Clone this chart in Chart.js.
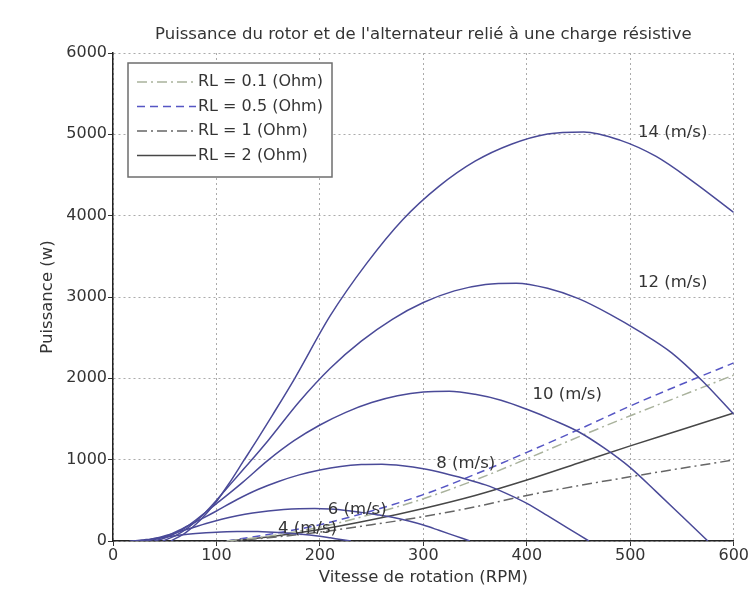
<!DOCTYPE html>
<html>
<head>
<meta charset="utf-8">
<script src="https://cdn.jsdelivr.net/npm/chart.js@4.4.1/dist/chart.umd.min.js"></script>
<style>
  html, body { margin: 0; padding: 0; background: #fff; }
  #wrap { width: 749px; height: 593px; }
</style>
</head>
<body>
<div id="wrap"><canvas id="chart" width="749" height="593"></canvas></div>
<script>
// rotor power curves, one per wind speed (RPM -> W)
const rpm14 = [56, 70, 84, 98, 112, 126, 140, 154, 175, 210, 245, 280, 315, 350, 385, 420, 455, 490, 525, 560, 600];
const pw14  = [0, 101, 252, 453, 704, 981, 1258, 1545, 1985, 2770, 3410, 3950, 4360, 4670, 4879, 5005, 5030, 4929, 4728, 4426, 4040];

const rpm12 = [48, 60, 72, 84, 96, 108, 120, 132, 150, 180, 210, 240, 270, 300, 330, 360, 390, 420, 450, 480, 510, 540, 570, 600];
const pw12  = [0, 63, 159, 285, 444, 618, 793, 967, 1236, 1712, 2124, 2457, 2726, 2932, 3075, 3154, 3170, 3107, 2980, 2790, 2568, 2314, 1965, 1560];

const rpm10 = [40, 50, 60, 70, 80, 90, 100, 110, 125, 150, 175, 200, 225, 250, 275, 300, 325, 350, 375, 400, 425, 450, 475, 500, 525, 550, 575];
const pw10  = [0, 37, 92, 166, 258, 359, 460, 561, 718, 994, 1233, 1426, 1582, 1702, 1785, 1831, 1840, 1803, 1730, 1619, 1490, 1343, 1141, 902, 607, 304, 0];

const rpm8 = [32, 40, 48, 56, 64, 72, 80, 88, 100, 120, 140, 160, 180, 200, 220, 240, 260, 280, 300, 320, 340, 360, 380, 400, 420, 440, 460];
const pw8  = [0, 19, 47, 85, 132, 184, 236, 288, 369, 510, 633, 732, 813, 874, 917, 940, 945, 926, 888, 832, 765, 690, 586, 463, 312, 156, 0];

const rpm6 = [24, 30, 36, 42, 48, 54, 60, 66, 75, 90, 105, 120, 135, 150, 165, 180, 195, 210, 225, 240, 255, 270, 285, 300, 315, 330, 345];
const pw6  = [0, 8, 20, 36, 56, 78, 100, 122, 156, 216, 268, 310, 344, 370, 388, 398, 400, 392, 376, 352, 324, 292, 248, 196, 132, 66, 0];

const rpm4 = [16, 20, 24, 28, 32, 36, 40, 44, 50, 60, 70, 80, 90, 100, 110, 120, 130, 140, 150, 160, 170, 180, 190, 200, 210, 220, 230];
const pw4  = [0, 2, 6, 11, 17, 23, 30, 36, 46, 64, 79, 91, 101, 109, 114, 117, 118, 116, 111, 104, 96, 86, 73, 58, 39, 19, 0];

// alternator power into the resistive load
const rpmLoad = [110, 150, 200, 250, 300, 350, 400, 450, 500, 550, 600];
const pwRL01  = [0, 60, 170, 330, 520, 750, 1010, 1280, 1540, 1790, 2040];
const pwRL05  = [0, 80, 200, 370, 570, 820, 1090, 1370, 1660, 1930, 2190];
const pwRL1   = [0, 40, 110, 200, 300, 420, 560, 680, 790, 895, 996];
const pwRL2   = [0, 50, 140, 260, 400, 560, 750, 960, 1170, 1370, 1574];

const loadLabels = ['RL = 0.1 (Ohm)', 'RL = 0.5 (Ohm)', 'RL = 1 (Ohm)', 'RL = 2 (Ohm)'];

// curve annotations: text, rpm, power
const speedLabels = ['14 (m/s)', '12 (m/s)', '10 (m/s)', '8 (m/s)', '6 (m/s)', '4 (m/s)'];
const speedLabelRpm = [541, 541, 439, 341, 236, 188];
const speedLabelPw  = [5020, 3170, 1800, 950, 380, 150];

const xTicks = [0, 100, 200, 300, 400, 500, 600];
const yTicks = [0, 1000, 2000, 3000, 4000, 5000, 6000];

const chartTitle = "Puissance du rotor et de l'alternateur relié à une charge résistive";

const FONT = "'DejaVu Sans', sans-serif";
const TEXT = '#343434';

function pts(xs, ys) {
    return xs.map((x, i) => ({ x: x, y: ys[i] }));
}

const rotorColor = '#4a4a98';
function rotor(xs, ys) {
    return {
        data: pts(xs, ys), borderColor: rotorColor, borderWidth: 1.5,
        pointRadius: 0, cubicInterpolationMode: 'monotone', inLegend: false
    };
}

const datasets = [
    rotor(rpm14, pw14), rotor(rpm12, pw12), rotor(rpm10, pw10),
    rotor(rpm8, pw8), rotor(rpm6, pw6), rotor(rpm4, pw4),
    { label: loadLabels[0], data: pts(rpmLoad, pwRL01), borderColor: '#a9b29c', borderDash: [10, 4, 2, 4], inLegend: true },
    { label: loadLabels[1], data: pts(rpmLoad, pwRL05), borderColor: '#5656c4', borderDash: [8, 5], inLegend: true },
    { label: loadLabels[2], data: pts(rpmLoad, pwRL1), borderColor: '#666666', borderDash: [10, 4, 2, 4], inLegend: true },
    { label: loadLabels[3], data: pts(rpmLoad, pwRL2), borderColor: '#474747', borderDash: [], inLegend: true }
];
datasets.slice(6).forEach(d => {
    d.borderWidth = 1.5;
    d.pointRadius = 0;
    d.cubicInterpolationMode = 'monotone';
});

// title centred over the plot area
const plotTitle = {
    id: 'plotTitle',
    afterDraw(chart) {
        const ctx = chart.ctx;
        const a = chart.chartArea;
        ctx.save();
        ctx.font = '16.5px ' + FONT;
        ctx.fillStyle = TEXT;
        ctx.textAlign = 'center';
        ctx.textBaseline = 'middle';
        ctx.fillText(chartTitle, (a.left + a.right) / 2, 35);
        ctx.restore();
    }
};

// legend box drawn inside the plot, top-left
const boxLegend = {
    id: 'boxLegend',
    afterDatasetsDraw(chart) {
        const ctx = chart.ctx;
        const x0 = 128, y0 = 63, w = 204, h = 114;
        ctx.save();
        ctx.fillStyle = '#fff';
        ctx.fillRect(x0, y0, w, h);
        ctx.strokeStyle = '#6e6e6e';
        ctx.lineWidth = 1.5;
        ctx.strokeRect(x0, y0, w, h);
        ctx.font = '16px ' + FONT;
        ctx.textBaseline = 'middle';
        let row = 0;
        chart.data.datasets.forEach(ds => {
            if (!ds.inLegend) return;
            const y = 82 + row * 24.5;
            ctx.strokeStyle = ds.borderColor;
            ctx.lineWidth = ds.borderWidth;
            ctx.setLineDash(ds.borderDash || []);
            ctx.beginPath();
            ctx.moveTo(137, y);
            ctx.lineTo(196, y);
            ctx.stroke();
            ctx.setLineDash([]);
            ctx.fillStyle = TEXT;
            ctx.fillText(ds.label, 198, y);
            row++;
        });
        ctx.restore();
    }
};

// wind speed labels next to the curves
const curveLabels = {
    id: 'curveLabels',
    afterDatasetsDraw(chart) {
        const ctx = chart.ctx;
        const xs = chart.scales.x, ys = chart.scales.y;
        ctx.save();
        ctx.font = '16.5px ' + FONT;
        ctx.fillStyle = TEXT;
        ctx.textAlign = 'center';
        ctx.textBaseline = 'middle';
        speedLabels.forEach((t, i) => {
            ctx.fillText(t, xs.getPixelForValue(speedLabelRpm[i]), ys.getPixelForValue(speedLabelPw[i]));
        });
        ctx.restore();
    }
};

const gridOpts = { color: '#ababab', lineWidth: 1, tickLength: 5, tickColor: '#333' };

new Chart(document.getElementById('chart'), {
    type: 'line',
    data: { datasets: datasets },
    options: {
        responsive: false,
        animation: false,
        devicePixelRatio: 1,
        layout: { padding: { left: 0, right: 15, top: 53, bottom: 0 } },
        plugins: {
            legend: { display: false },
            tooltip: { enabled: false },
            title: { display: false }
        },
        scales: {
            x: {
                type: 'linear', min: 0, max: 600,
                afterBuildTicks: s => { s.ticks = xTicks.map(v => ({ value: v })); },
                afterFit: s => { s.height = 52; },
                grid: gridOpts,
                border: { display: true, color: '#222', width: 1.5, dash: [2, 3] },
                ticks: { color: TEXT, padding: 0, font: { family: FONT, size: 16 }, callback: v => String(v) },
                title: {
                    display: true, text: 'Vitesse de rotation (RPM)', color: TEXT,
                    font: { family: FONT, size: 16.5 }, padding: { top: 0, bottom: 5 }
                }
            },
            y: {
                type: 'linear', min: 0, max: 6000,
                afterBuildTicks: s => { s.ticks = yTicks.map(v => ({ value: v })); },
                afterFit: s => { s.width = 113; },
                grid: gridOpts,
                border: { display: true, color: '#222', width: 1.5, dash: [2, 3] },
                ticks: { color: TEXT, padding: 1, font: { family: FONT, size: 16 }, callback: v => String(v) },
                title: {
                    display: true, text: 'Puissance (w)', color: TEXT,
                    font: { family: FONT, size: 16.5 }, padding: { top: 38, bottom: 0 }
                }
            }
        }
    },
    plugins: [curveLabels, boxLegend, plotTitle]
});
</script>
</body>
</html>
